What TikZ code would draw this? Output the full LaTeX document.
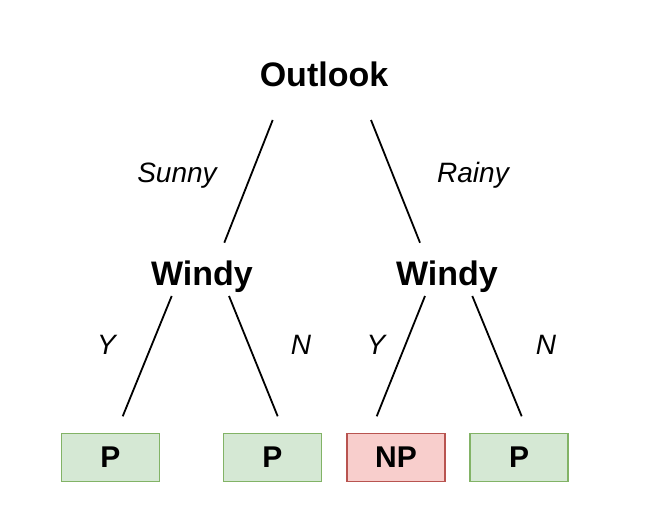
\documentclass[tikz,border=0pt]{standalone}
\usepackage{fontspec}
\setmainfont{Liberation Sans}
\usepackage{xcolor}
\usepackage{tikz}
\definecolor{leafgreen}{HTML}{D5E8D4}
\definecolor{leafline}{HTML}{82B366}
\definecolor{nofill}{HTML}{F8CECC}
\definecolor{noline}{HTML}{B85450}

\begin{document}
\begin{tikzpicture}[x=1pt,y=1pt,
  attr/.style={anchor=base,inner sep=0pt,font=\fontsize{34}{40}\selectfont\bfseries},
  edgelab/.style={anchor=base,inner sep=0pt,font=\fontsize{28}{33}\selectfont\itshape},
  leaf/.style={draw=leafline,fill=leafgreen,line width=1.8pt,minimum width=98pt,
    minimum height=48pt,inner sep=0pt,font=\fontsize{30}{36}\selectfont\bfseries},
  noleaf/.style={leaf,draw=noline,fill=nofill},
  branch/.style={line width=1.8pt}]
\useasboundingbox (0,0) rectangle (655,-517);
%
\node[attr] (outlook) at (324,-86) {Outlook};
\node[attr] (windyS) at (202,-285) {Windy};
\node[attr] (windyR) at (447,-285) {Windy};
%
\node[leaf] (p1) at (110.5,-457.5) {P};
\node[leaf] (p2) at (272.5,-457.5) {P};
\node[noleaf] (np) at (396,-457.5) {NP};
\node[leaf] (p4) at (519,-457.5) {P};
%
\node[edgelab] (sunny) at (177,-182) {Sunny};
\node[edgelab] (rainy) at (473,-182) {Rainy};
\node[edgelab] (yS) at (106.5,-354) {Y};
\node[edgelab] (nS) at (301,-354) {N};
\node[edgelab] (yR) at (376,-354) {Y};
\node[edgelab] (nR) at (546,-354) {N};
%
\draw[branch] ([shift={(-51.3,-34)}]outlook.base) -- ([shift={(22.3,42.3)}]windyS.base);
\draw[branch] ([shift={(47,-34)}]outlook.base) -- ([shift={(-27,42.3)}]windyR.base);
%
\draw[branch] ([shift={(-30.3,-11)}]windyS.base) -- ([shift={(12.2,16.3)}]p1.north);
\draw[branch] ([shift={(27,-11)}]windyS.base) -- ([shift={(5.2,16.3)}]p2.north);
\draw[branch] ([shift={(-22,-11)}]windyR.base) -- ([shift={(-19.3,16.3)}]np.north);
\draw[branch] ([shift={(25.3,-11)}]windyR.base) -- ([shift={(2.7,16.3)}]p4.north);
\end{tikzpicture}
\end{document}
